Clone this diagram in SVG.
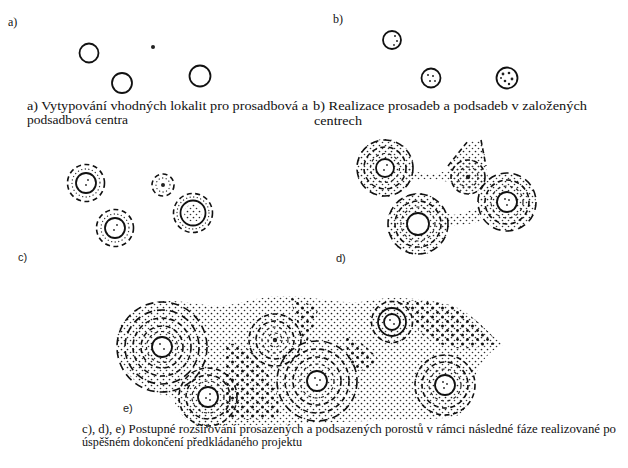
<svg xmlns="http://www.w3.org/2000/svg" width="628" height="468" viewBox="0 0 628 468">
<defs>
<pattern id="pf" width="6" height="6" patternUnits="userSpaceOnUse"><circle cx="1.5" cy="1.5" r="0.85" fill="#222"/><circle cx="4.5" cy="4.5" r="0.8" fill="#333"/></pattern>
<pattern id="pc" width="10" height="9" patternUnits="userSpaceOnUse"><circle cx="2.5" cy="2" r="1.5" fill="#111"/><circle cx="7.5" cy="6.5" r="1.4" fill="#111"/></pattern>
<style>
.s{fill:none;stroke:#111;stroke-width:1.8}
.d{fill:none;stroke:#111;stroke-width:1.6;stroke-dasharray:5 3.5}
.dl{fill:none;stroke:#111;stroke-width:1.6;stroke-dasharray:8 5}
.df{fill:none;stroke:#222;stroke-width:1.2;stroke-dasharray:3 3.5}
.dt{fill:none;stroke:#333;stroke-width:1.3;stroke-dasharray:0.1 3.5;stroke-linecap:round}
.dot{fill:#222}
.t{font-family:"Liberation Serif","DejaVu Serif","Times New Roman",serif;font-size:12px;fill:#111}
.l{font-family:"Liberation Sans",Arial,sans-serif;font-size:11px;fill:#222}
</style>
</defs>
<rect width="628" height="468" fill="#fff"/>

<g id="panel-a">
<text class="t" x="8" y="26">a)</text>
<circle class="s" cx="89" cy="53" r="9.5"/>
<circle class="s" cx="122" cy="83" r="10"/>
<circle class="s" cx="200" cy="76" r="10.5"/>
<circle class="dot" cx="153" cy="47" r="2"/>
<text class="t" x="27" y="110" textLength="281" lengthAdjust="spacingAndGlyphs">a) Vytypování vhodných lokalit pro prosadbová a</text>
<text class="t" x="27" y="124" textLength="101" lengthAdjust="spacingAndGlyphs">podsadbová centra</text>
</g>

<g id="panel-b">
<text class="t" x="333" y="23">b)</text>
<circle class="s" cx="392" cy="40" r="9"/>
<circle class="dot" cx="395" cy="36" r="1"/><circle class="dot" cx="397" cy="41" r="1"/><circle class="dot" cx="394" cy="45" r="0.9"/>
<circle class="s" cx="431" cy="78" r="9.5"/>
<circle class="dot" cx="428" cy="75" r="1"/><circle class="dot" cx="433" cy="76" r="1"/><circle class="dot" cx="430" cy="81" r="1"/><circle class="dot" cx="435" cy="81" r="0.9"/>
<circle class="s" cx="507" cy="78" r="10.5"/>
<circle class="dot" cx="503" cy="74" r="1.4"/><circle class="dot" cx="509" cy="73" r="1.3"/><circle class="dot" cx="512" cy="79" r="1.4"/><circle class="dot" cx="505" cy="81" r="1.3"/><circle class="dot" cx="509" cy="84" r="1.2"/><circle class="dot" cx="501" cy="78" r="1"/>
<text class="t" x="313" y="110" textLength="274" lengthAdjust="spacingAndGlyphs">b) Realizace prosadeb a podsadeb v založených</text>
<text class="t" x="314" y="125" textLength="48" lengthAdjust="spacingAndGlyphs">centrech</text>
</g>

<g id="panel-c">
<circle class="d" cx="86" cy="183" r="18.5"/>
<circle class="dt" cx="86" cy="183" r="14"/>
<circle class="s" cx="86" cy="183" r="10"/>
<circle class="dot" cx="88" cy="180" r="0.9"/><circle class="dot" cx="86" cy="185" r="0.9"/>
<circle class="d" cx="163" cy="185" r="11"/>
<circle class="dt" cx="163" cy="185" r="7"/>
<circle class="dot" cx="163" cy="185" r="2"/>
<circle class="d" cx="115" cy="228" r="18.5"/>
<circle class="dt" cx="115" cy="228" r="14"/>
<circle class="s" cx="115" cy="228" r="10"/>
<circle class="dot" cx="117" cy="225" r="0.9"/><circle class="dot" cx="114" cy="230" r="0.9"/>
<circle class="d" cx="193" cy="213" r="19.5"/>
<circle class="dt" cx="193" cy="213" r="16"/>
<circle class="s" cx="193" cy="213" r="12.5"/>
<circle cx="193" cy="213" r="9" fill="url(#pf)"/>
<text class="l" x="18" y="261">c)</text>
</g>

<g id="panel-d">
<path d="M405,166 C420,176 438,176 452,168 L455,184 C440,178 420,178 405,182 Z" fill="url(#pf)"/>
<path d="M438,210 C450,218 465,215 478,206 L482,222 C468,224 452,226 440,228 Z" fill="url(#pf)"/>
<path d="M450,170 C446,162 460,150 470,141 L483,141 C484,152 486,164 488,178 C480,192 462,196 452,186 Z" fill="url(#pf)"/>
<circle cx="385" cy="168" r="29" fill="url(#pf)"/>
<circle cx="418" cy="224" r="31" fill="url(#pf)"/>
<circle cx="507" cy="202" r="29" fill="url(#pf)"/>
<circle cx="468" cy="177" r="17" fill="url(#pf)"/>
<circle fill="#fff" cx="385" cy="168" r="9"/>
<circle fill="#fff" cx="418" cy="224" r="11"/>
<circle fill="#fff" cx="507" cy="202" r="10"/>
<path class="d" d="M448,166 L468,141 M481,140 L486,166"/>
<circle class="dl" cx="385" cy="168" r="28"/>
<circle class="d" cx="385" cy="168" r="21"/>
<circle class="df" cx="385" cy="168" r="14.5"/>
<circle class="s" cx="385" cy="168" r="9"/>
<circle class="dot" cx="387" cy="165" r="0.9"/><circle class="dot" cx="384" cy="170" r="0.9"/>
<circle class="dl" cx="418" cy="224" r="30"/>
<circle class="d" cx="418" cy="224" r="23"/>
<circle class="df" cx="418" cy="224" r="17"/>
<circle class="s" cx="418" cy="224" r="11"/>
<circle class="d" cx="468" cy="177" r="17"/>
<circle class="df" cx="468" cy="177" r="10"/>
<circle class="dot" cx="468" cy="177" r="2.2"/>
<circle class="dl" cx="507" cy="202" r="29"/>
<circle class="d" cx="507" cy="202" r="22"/>
<circle class="df" cx="507" cy="202" r="16"/>
<circle class="s" cx="507" cy="202" r="10"/>
<circle class="dot" cx="505" cy="199" r="0.9"/><circle class="dot" cx="509" cy="200" r="0.9"/><circle class="dot" cx="507" cy="205" r="0.9"/>
<text class="l" x="336" y="262">d)</text>
</g>

<g id="panel-e">
<path d="M116,345 C116,318 138,302 165,301 C190,300 208,308 228,305 C248,302 262,295 290,296 C318,297 340,304 360,302 C376,300 386,297 402,298 C424,299 444,302 458,308 C474,316 488,332 503,345 C490,350 482,360 476,374 C470,394 470,410 455,417 C420,421 380,420 340,422 C300,424 250,426 210,426 C185,426 178,412 173,398 C150,392 120,380 116,345 Z" fill="url(#pf)"/>
<path d="M226,345 C240,340 255,352 262,365 C272,380 282,395 278,418 C260,420 240,421 225,418 C228,400 224,380 226,345 Z" fill="url(#pc)"/>
<path d="M405,300 C424,300 444,302 458,308 C474,316 488,332 500,344 C485,345 470,350 455,348 C440,345 425,340 418,330 C415,320 410,310 405,300 Z" fill="url(#pc)"/>
<path d="M290,298 C300,300 310,303 318,310 C315,322 312,335 305,345 C300,332 296,318 290,298 Z" fill="url(#pc)"/>
<path d="M345,335 C360,340 372,350 380,362 C370,372 360,372 350,368 C348,358 346,348 345,335 Z" fill="url(#pc)"/>
<circle fill="#fff" cx="162" cy="347" r="10"/>
<circle fill="#fff" cx="208" cy="397" r="10"/>
<circle fill="#fff" cx="317" cy="381" r="10"/>
<circle fill="#fff" cx="392" cy="322" r="8"/>
<circle fill="#fff" cx="445" cy="385" r="10"/>
<circle class="dl" cx="162" cy="347" r="45"/>
<circle class="dl" cx="162" cy="347" r="37"/>
<circle class="d" cx="162" cy="347" r="29"/>
<circle class="d" cx="162" cy="347" r="21"/>
<circle class="df" cx="162" cy="347" r="15.5"/>
<circle class="s" cx="162" cy="347" r="10"/>
<circle class="dot" cx="160" cy="344" r="0.9"/><circle class="dot" cx="164" cy="349" r="0.9"/>
<circle class="d" cx="208" cy="397" r="29"/>
<circle class="d" cx="208" cy="397" r="22"/>
<circle class="df" cx="208" cy="397" r="16"/>
<circle class="s" cx="208" cy="397" r="10"/>
<circle class="dot" cx="210" cy="394" r="0.9"/><circle class="dot" cx="206" cy="398" r="0.9"/><circle class="dot" cx="210" cy="400" r="0.9"/>
<circle class="d" cx="275" cy="340" r="26"/>
<circle class="d" cx="275" cy="340" r="19"/>
<circle class="df" cx="275" cy="340" r="13"/>
<circle class="df" cx="275" cy="340" r="7"/>
<circle class="dot" cx="275" cy="340" r="2.2"/>
<circle class="dl" cx="317" cy="381" r="40"/>
<circle class="d" cx="317" cy="381" r="32"/>
<circle class="d" cx="317" cy="381" r="24"/>
<circle class="df" cx="317" cy="381" r="17"/>
<circle class="s" cx="317" cy="381" r="10"/>
<circle class="dot" cx="315" cy="378" r="0.9"/><circle class="dot" cx="320" cy="380" r="0.9"/><circle class="dot" cx="317" cy="385" r="0.9"/>
<circle class="d" cx="392" cy="322" r="20.5"/>
<circle class="s" cx="392" cy="322" r="14"/>
<circle class="s" cx="392" cy="322" r="8"/>
<circle class="dot" cx="390" cy="320" r="0.9"/><circle class="dot" cx="394" cy="324" r="0.9"/>
<circle class="d" cx="445" cy="385" r="30"/>
<circle class="d" cx="445" cy="385" r="23"/>
<circle class="df" cx="445" cy="385" r="16"/>
<circle class="s" cx="445" cy="385" r="10"/>
<circle class="dot" cx="443" cy="382" r="0.9"/><circle class="dot" cx="447" cy="384" r="0.9"/><circle class="dot" cx="444" cy="388" r="0.9"/>
<text class="l" x="123" y="412">e)</text>
</g>

<g id="caption">
<text class="t" x="82" y="433" textLength="534" lengthAdjust="spacingAndGlyphs">c), d), e) Postupné rozšiřování prosazených a podsazených porostů v rámci následné fáze realizované po</text>
<text class="t" x="82" y="446" textLength="220" lengthAdjust="spacingAndGlyphs">úspěšném dokončení předkládaného projektu</text>
</g>
</svg>
